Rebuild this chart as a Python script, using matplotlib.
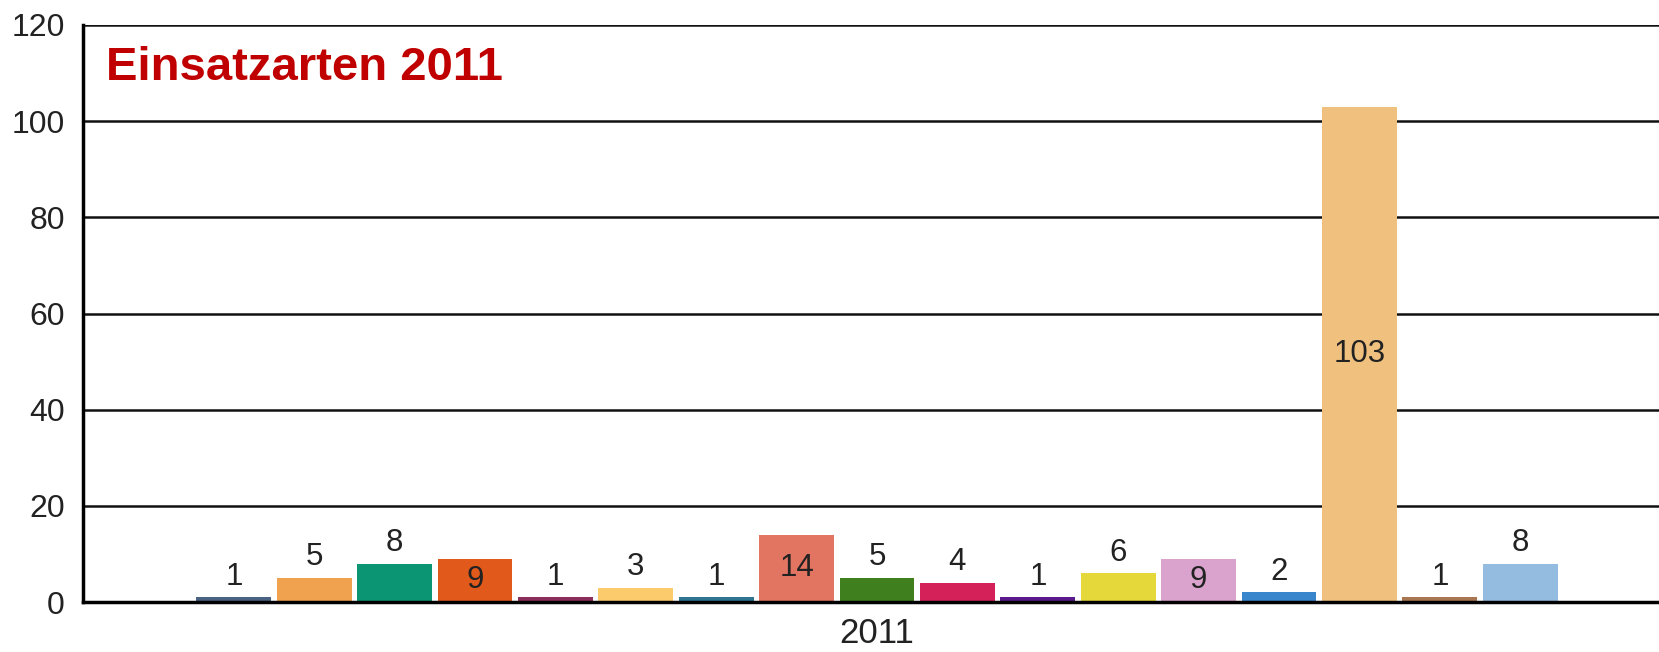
import matplotlib
matplotlib.use("Agg")
import matplotlib.pyplot as plt
import numpy as np

plt.rcParams['font.family'] = ['Liberation Sans', 'DejaVu Sans']

# Data
values = [1, 5, 8, 9, 1, 3, 1, 14, 5, 4, 1, 6, 9, 2, 103, 1, 8]
colors = ['#4a6382', '#f0a24e', '#0c9572', '#e2591c', '#8e2e5c', '#fccc6c',
          '#2f7590', '#e27462', '#3f7f1d', '#d5215a', '#5a1a8c', '#e5d83a',
          '#d9a3cd', '#3a86cc', '#f0c07f', '#a87650', '#94bbe0']
group_label = '2011'
title = 'Einsatzarten 2011'
yticks = [0, 20, 40, 60, 80, 100, 120]

fig = plt.figure(figsize=(16.59, 6.52), dpi=100)
ax = fig.add_axes([83/1659, 50/652, 1 - 83/1659, 577/652])

x = np.arange(len(values))
bars = ax.bar(x, values, width=0.93, color=colors, zorder=2)

for xi, v in zip(x, values):
    if v >= 9:
        ax.text(xi, v / 2, str(v), ha='center', va='center', fontsize=22.5, color='#222222', zorder=3)
    else:
        ax.annotate(str(v), (xi, v), xytext=(0, 9), textcoords='offset points',
                    ha='center', va='baseline', fontsize=22.5, color='#222222', zorder=3)

ax.set_ylim(0, 120)
ax.set_xlim(-1.876, 17.726)
ax.set_yticks(yticks)
ax.set_yticklabels([str(t) for t in yticks])
ax.set_xticks([(len(values) - 1) / 2])
ax.set_xticklabels([group_label])
ax.tick_params(axis='y', length=0, pad=13, labelsize=23, labelcolor='#222222')
ax.tick_params(axis='x', length=0, pad=11, labelsize=25, labelcolor='#222222')

ax.yaxis.grid(True, color='#111111', linewidth=1.8)
ax.set_axisbelow(True)
for s in ['top', 'right']:
    ax.spines[s].set_visible(False)
ax.spines['left'].set_linewidth(2.5)
ax.spines['bottom'].set_linewidth(2.5)
ax.spines['left'].set_color('black')
ax.spines['bottom'].set_color('black')

fig.text(106/1659, 1 - 80/652, title, fontsize=34, fontweight='bold',
         color='#c00000', ha='left', va='baseline')

fig.savefig('out.png', dpi=100)
